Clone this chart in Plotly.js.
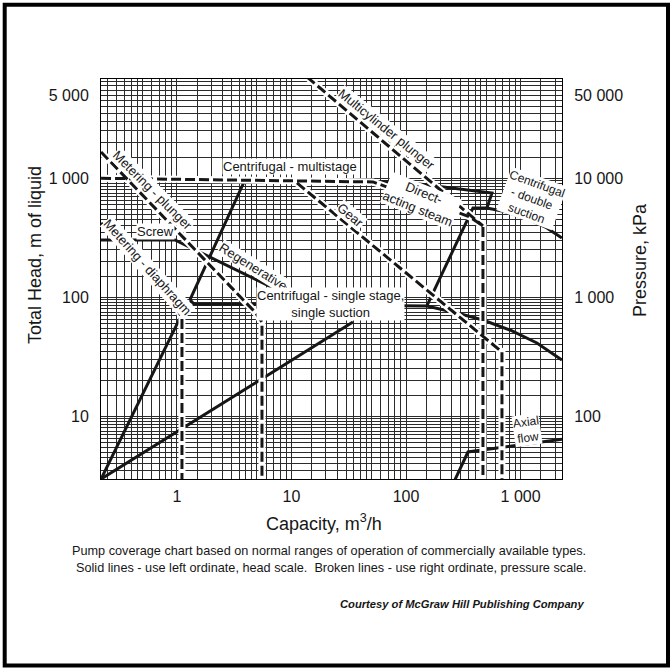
<!DOCTYPE html>
<html>
<head>
<meta charset="utf-8">
<script src="https://cdn.plot.ly/plotly-3.0.1.min.js"></script>
<style>
  html, body { margin: 0; padding: 0; background: #fff; }
  #chart { width: 671px; height: 669px; }
</style>
</head>
<body>
<div id="chart"></div>
<script>
// ---- Solid boundaries: capacity (m3/h) vs total head (m of liquid) ----
const diaphragmRiseQ = [0.218, 1.09];
const diaphragmRiseHead = [2.97, 70];

const lowRiseQ = [0.218, 34.4];
const lowRiseHead = [2.97, 62];

const screwRegenQ = [0.218, 0.962, 9.7];
const screwRegenHead = [303, 303, 102];

const multistageQ = [1.30, 3.93, 94, 562, 508];
const multistageHead = [95, 967, 931, 752, 563];

const singleStageQ = [1.30, 1.41, 152, 278, 469, 807, 1387, 2293];
const singleStageHead = [95, 87.8, 84.5, 73.8, 64.4, 53.1, 41.3, 29.7];

const doubleSuctionQ = [152, 384, 508, 760, 1206, 1696, 2293];
const doubleSuctionHead = [84.5, 563, 563, 521, 446, 382, 315];

const axialQ = [267, 347, 2293];
const axialHead = [2.92, 5.01, 6.4];

// ---- Broken boundaries: capacity (m3/h) vs pressure (kPa) ----
const steamQ = [0.218, 51.4, 361, 469, 469];
const steamKPa = [10000, 9310, 4730, 3970, 25];

const multicylQ = [13.65, 361, 469];
const multicylKPa = [71000, 4915, 3970];

const gearQ = [11.17, 687, 687];
const gearKPa = [9130, 347, 25];

const plungerQ = [0.218, 4.80, 5.53, 5.53];
const plungerKPa = [16630, 752, 620, 25];

const diaphragmQ = [0.218, 1.022, 1.108, 1.108];
const diaphragmKPa = [4212, 782, 670, 25];

// ---- Axis ticks ----
const capTicks = [1, 10, 100, 1000];
const capTickText = ['1', '10', '100', '1 000'];
const headTicks = [10, 100, 1000, 5000];
const headTickText = ['10', '100', '1 000', '5 000'];
const pressTicks = [100, 1000, 10000, 50000];
const pressTickText = ['100', '1 000', '10 000', '50 000'];

// ---- Labels ----
const labelTexts = [
  'Centrifugal - multistage',
  'Multicylinder plunger',
  'Centrifugal<br>- double<br>suction',
  'Direct-<br>acting steam',
  'Gear',
  'Metering - plunger',
  'Screw',
  'Regenerative',
  'Metering - diaphragm',
  'Centrifugal - single stage,<br>single suction',
  'Axial<br>flow'
];

const FONT = 'Liberation Sans, Arial, Helvetica, sans-serif';
const INK = '#161616';

// log-paper rulings: mantissa steps used inside every decade
const xRulings = [1, 1.5, 2, 2.5, 3, 3.5, 4, 4.5, 5, 6, 7, 8, 9];
const yRulings = [1, 1.5, 2, 2.5, 3, 3.5, 4, 4.5, 5, 5.5, 6, 6.5, 7, 7.5, 8, 8.5, 9, 9.5];
function gridValues(steps, lo, hi) {
  const v = [];
  for (let e = lo; e <= hi; e++) steps.forEach(m => v.push(m * Math.pow(10, e)));
  return v;
}

function solid(x, y) {
  return { x, y, type: 'scatter', mode: 'lines', yaxis: 'y', hoverinfo: 'skip',
           line: { color: INK, width: 3 }, showlegend: false };
}
function halo(x, y) {
  return { x, y, type: 'scatter', mode: 'lines', yaxis: 'y2', hoverinfo: 'skip',
           line: { color: '#ffffff', width: 7 }, showlegend: false };
}
function broken(x, y) {
  return { x, y, type: 'scatter', mode: 'lines', yaxis: 'y2', hoverinfo: 'skip',
           line: { color: INK, width: 3, dash: '10px,4px' }, showlegend: false };
}

const brokenSets = [
  [steamQ, steamKPa], [multicylQ, multicylKPa], [gearQ, gearKPa],
  [plungerQ, plungerKPa], [diaphragmQ, diaphragmKPa]
];
const solidSets = [
  [diaphragmRiseQ, diaphragmRiseHead], [lowRiseQ, lowRiseHead],
  [screwRegenQ, screwRegenHead], [multistageQ, multistageHead],
  [singleStageQ, singleStageHead], [doubleSuctionQ, doubleSuctionHead],
  [axialQ, axialHead]
];

const traces = [];
brokenSets.forEach(s => traces.push(halo(s[0], s[1])));
solidSets.forEach(s => traces.push(solid(s[0], s[1])));
brokenSets.forEach(s => traces.push(broken(s[0], s[1])));

// page geometry of the plotting area
const L = 101, R = 562, T = 79, B = 479;
const W = 671, H = 669;
function px(x) { return (x - L) / (R - L); }
function py(y) { return (B - y) / (B - T); }

function label(i, x, y, angle, size) {
  return {
    text: labelTexts[i], xref: 'paper', yref: 'paper', x: px(x), y: py(y),
    xanchor: 'center', yanchor: 'middle', showarrow: false, textangle: angle,
    bgcolor: '#ffffff', borderpad: 0,
    font: { family: FONT, size: size || 13, color: INK }
  };
}
function note(text, x, y, size, anchor, angle) {
  return {
    text, xref: 'paper', yref: 'paper', x: px(x), y: py(y),
    xanchor: anchor || 'center', yanchor: 'middle', showarrow: false,
    textangle: angle || 0, font: { family: FONT, size, color: INK }
  };
}

const annotations = [
  label(0, 290, 166, 0),
  label(1, 387, 129, 39),
  label(2, 532, 198, 20, 12),
  label(3, 421, 201, 22),
  label(4, 351, 215, 40),
  label(5, 153, 190, 45),
  label(6, 155, 231, 0),
  label(7, 253, 266, 32),
  label(8, 148, 267, 48),
  label(9, 330, 304, 0),
  label(10, 527, 430, -8, 12),
  note('Capacity, m<sup>3</sup>/h', 324, 522, 18),
  note('Total Head, m of liquid', 35, 255, 18, 'center', -90),
  note('Pressure, kPa', 640, 260, 18, 'center', -90),
  note('Pump coverage chart based on normal ranges of operation of commercially available types.', 329, 551, 12.7),
  note('Solid lines - use left ordinate, head scale.  Broken lines - use right ordinate, pressure scale.', 331, 568, 12.7),
  note('<b><i>Courtesy of McGraw Hill Publishing Company</i></b>', 586, 604, 11.2, 'right')
];

const gridColor = '#2b2b2b';

const layout = {
  width: W, height: H,
  margin: { l: L, r: W - R, t: T, b: H - B, pad: 0 },
  paper_bgcolor: '#ffffff', plot_bgcolor: '#ffffff',
  showlegend: false,
  font: { family: FONT, color: INK },
  xaxis: {
    type: 'log', range: [-0.662, 3.361],
    tickmode: 'array', tickvals: capTicks, ticktext: capTickText,
    ticks: 'outside', ticklen: 3, tickcolor: 'rgba(0,0,0,0)',
    tickfont: { family: FONT, size: 16, color: INK },
    showgrid: true, gridcolor: gridColor, gridwidth: 1,
    minor: { tickmode: 'array', tickvals: gridValues(xRulings, -1, 3), showgrid: true,
             gridcolor: gridColor, gridwidth: 1, ticks: '' },
    showline: true, linecolor: '#000', linewidth: 1, mirror: true,
    zeroline: false, fixedrange: true
  },
  yaxis: {
    type: 'log', range: [0.473, 3.834],
    tickmode: 'array', tickvals: headTicks, ticktext: headTickText,
    ticks: 'outside', ticklen: 8, tickcolor: 'rgba(0,0,0,0)',
    tickfont: { family: FONT, size: 16, color: INK },
    showgrid: true, gridcolor: gridColor, gridwidth: 1,
    minor: { tickmode: 'array', tickvals: gridValues(yRulings, 0, 3), showgrid: true,
             gridcolor: gridColor, gridwidth: 1, ticks: '' },
    showline: true, linecolor: '#000', linewidth: 1, mirror: true,
    zeroline: false, fixedrange: true
  },
  yaxis2: {
    type: 'log', range: [1.473, 4.834], overlaying: 'y', side: 'right',
    tickmode: 'array', tickvals: pressTicks, ticktext: pressTickText,
    ticks: 'outside', ticklen: 8, tickcolor: 'rgba(0,0,0,0)',
    tickfont: { family: FONT, size: 16, color: INK },
    showgrid: false, zeroline: false, fixedrange: true
  },
  annotations,
  shapes: [{
    type: 'rect', xref: 'paper', yref: 'paper',
    x0: px(4.7), x1: px(668), y0: py(665.5), y1: py(4.7),
    line: { color: '#000', width: 4 }, fillcolor: 'rgba(0,0,0,0)'
  }]
};

Plotly.newPlot('chart', traces, layout, { displayModeBar: false, staticPlot: true });
</script>
</body>
</html>
